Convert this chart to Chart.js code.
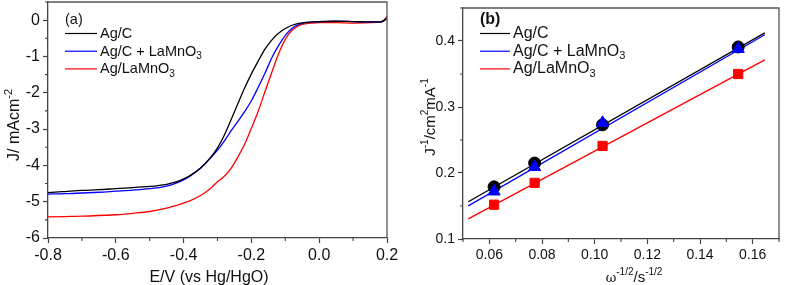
<!DOCTYPE html>
<html>
<head>
<meta charset="utf-8">
<script src="https://cdn.jsdelivr.net/npm/chart.js@4.4.1/dist/chart.umd.min.js"></script>
<style>
  html, body { margin: 0; padding: 0; background: #fff; }
  #wrap { position: relative; width: 787px; height: 285px; }
  #chartA { position: absolute; left: 0; top: 0; }
  #chartB { position: absolute; left: 400px; top: 0; }
</style>
</head>
<body>
<div id="wrap">
  <canvas id="chartA" width="400" height="285"></canvas>
  <canvas id="chartB" width="387" height="285"></canvas>
</div>
<script>
// (a) polarisation curves, E/V vs Hg/HgO
const potential = [-0.8, -0.75, -0.7, -0.65, -0.6, -0.55, -0.5, -0.45, -0.42, -0.4, -0.38, -0.35,
  -0.32, -0.3, -0.28, -0.26, -0.24, -0.22, -0.2, -0.18, -0.16, -0.14, -0.12, -0.1,
  -0.08, -0.06, -0.04, -0.02, 0, 0.05, 0.1, 0.15, 0.18, 0.19, 0.2];
const currentAgC = [-4.75, -4.72, -4.69, -4.67, -4.64, -4.61, -4.58, -4.52, -4.45, -4.37, -4.27, -4.07,
  -3.78, -3.52, -3.17, -2.74, -2.30, -1.87, -1.48, -1.13, -0.80, -0.55, -0.36, -0.23,
  -0.14, -0.09, -0.06, -0.05, -0.04, -0.03, -0.04, -0.05, -0.05, -0.02, 0.05];
const currentAgCLa = [-4.79, -4.78, -4.76, -4.74, -4.71, -4.68, -4.64, -4.57, -4.48, -4.40, -4.29, -4.08,
  -3.79, -3.58, -3.33, -3.05, -2.79, -2.52, -2.22, -1.85, -1.46, -1.04, -0.70, -0.42,
  -0.22, -0.12, -0.07, -0.05, -0.04, -0.03, -0.04, -0.05, -0.05, -0.02, 0.06];
const currentAgLa = [-5.42, -5.41, -5.40, -5.38, -5.36, -5.32, -5.27, -5.18, -5.10, -5.04, -4.97, -4.83,
  -4.63, -4.45, -4.30, -4.08, -3.77, -3.42, -2.98, -2.51, -1.97, -1.44, -0.93, -0.53,
  -0.28, -0.15, -0.10, -0.08, -0.07, -0.07, -0.08, -0.07, -0.05, 0.0, 0.10];
const ticksAX = [-0.8, -0.6, -0.4, -0.2, 0.0, 0.2];
const ticksAY = [-6, -5, -4, -3, -2, -1, 0];

// (b) Koutecky-Levich plots
const omega = [0.0618, 0.0772, 0.1030, 0.1545];
const invJAgC = [0.179, 0.215, 0.273, 0.391];
const invJAgCLa = [0.172, 0.209, 0.276, 0.388];
const invJAgLa = [0.152, 0.185, 0.241, 0.350];
const fitX = [0.052, 0.1646];
const fitAgC = [0.1565, 0.4124];
const fitAgCLa = [0.1502, 0.4094];
const fitAgLa = [0.1305, 0.3715];
const ticksBX = [0.06, 0.08, 0.10, 0.12, 0.14, 0.16];
const ticksBY = [0.1, 0.2, 0.3, 0.4];

const seriesNames = ['Ag/C', 'Ag/C + LaMnO₃', 'Ag/LaMnO₃'];
const seriesColors = ['#000000', '#0000ff', '#ff0000'];

const FAMILY = '"Liberation Sans", Arial, Helvetica, sans-serif';

function pts(xs, ys) {
  return xs.map((x, i) => ({ x: x, y: ys[i] }));
}

// minor ticks half way between the major ones, plus one step past each end
function minors(ticks, min, max) {
  const step = ticks[1] - ticks[0];
  const out = [];
  for (let v = ticks[0] - step / 2; v <= max + 1e-9; v += step) {
    if (v >= min - 1e-9) out.push(v);
  }
  return out;
}

// text with super/subscripts: parts = [text, mode, dx, font]
function drawRich(ctx, parts, x, y, size, align) {
  const fontFor = p => p[3] || ((p[1] ? Math.round(size * 0.68) : size) + 'px ' + FAMILY);
  let w = 0;
  parts.forEach(p => { ctx.font = fontFor(p); w += ctx.measureText(p[0]).width + (p[2] || 0); });
  let cx = align === 'center' ? x - w / 2 : x;
  ctx.textAlign = 'left';
  ctx.textBaseline = 'alphabetic';
  parts.forEach(p => {
    ctx.font = fontFor(p);
    cx += p[2] || 0;
    const dy = p[1] === 1 ? -size * 0.45 : p[1] === -1 ? size * 0.22 : 0;
    ctx.fillText(p[0], cx, y + dy);
    cx += ctx.measureText(p[0]).width;
  });
}

function nameParts(name) {
  return name.split('₃').flatMap((s, i, arr) => i < arr.length - 1 ? [[s, 0], ['3', -1]] : [[s, 0]]);
}

const decor = {
  id: 'decor',
  afterDraw(chart, args, o) {
    const { ctx, chartArea: a, scales } = chart;
    ctx.save();
    ctx.strokeStyle = '#555';
    ctx.lineWidth = 1.3;
    ctx.beginPath();
    ctx.moveTo(a.left, a.top);
    ctx.lineTo(a.right, a.top);
    ctx.lineTo(a.right, a.bottom);
    ctx.stroke();

    ctx.strokeStyle = '#444';
    ctx.lineWidth = 1.1;
    ctx.beginPath();
    o.minorX.forEach(v => {
      const px = scales.x.getPixelForValue(v);
      ctx.moveTo(px, a.bottom);
      ctx.lineTo(px, a.bottom + 3);
    });
    o.minorY.forEach(v => {
      const py = scales.y.getPixelForValue(v);
      ctx.moveTo(a.left, py);
      ctx.lineTo(a.left - 3, py);
    });
    ctx.stroke();

    ctx.fillStyle = '#111';
    drawRich(ctx, o.xTitle, o.xTitlePos[0], o.xTitlePos[1], o.titleSize, 'center');
    ctx.save();
    ctx.translate(o.yTitlePos[0], o.yTitlePos[1]);
    ctx.rotate(-Math.PI / 2);
    drawRich(ctx, o.yTitle, 0, 0, o.titleSize, 'center');
    ctx.restore();

    // panel label and legend
    const L = o.legend;
    ctx.font = (L.bold ? 'bold ' : '') + L.size + 'px ' + FAMILY;
    ctx.fillText(L.tag, L.x, L.y0 - 14);
    seriesNames.forEach((n, i) => {
      const y = L.y0 + i * 17.7;
      ctx.strokeStyle = seriesColors[i];
      ctx.lineWidth = 1.2;
      ctx.beginPath();
      ctx.moveTo(L.x, y - 4.5);
      ctx.lineTo(L.x + L.len, y - 4.5);
      ctx.stroke();
      ctx.fillStyle = '#111';
      drawRich(ctx, nameParts(n), L.x + L.len + 3, y, L.size, 'left');
    });
    ctx.restore();
  }
};

function axis(min, max, ticks, fmt, size, extra) {
  return Object.assign({
    type: 'linear', min: min, max: max,
    afterBuildTicks: s => { s.ticks = ticks.map(v => ({ value: v })); },
    ticks: { callback: v => v.toFixed(fmt), font: { size: size, family: FAMILY }, color: '#111',
      maxRotation: 0, autoSkip: false },
    grid: { drawOnChartArea: false, tickLength: 5, color: '#444', tickWidth: 1.2 },
    border: { color: '#444', width: 1.3 }
  }, extra);
}

// fixed axis size and no extra label padding, so the plot box sits where it should
function fixSize(prop, val) {
  return s => {
    s[prop] = val;
    s.paddingTop = 0; s.paddingBottom = 0; s.paddingLeft = 0; s.paddingRight = 0;
  };
}

const lineA = (i, data) => ({
  label: seriesNames[i], data: pts(potential, data), showLine: true,
  borderColor: seriesColors[i], borderWidth: 1.3, pointRadius: 0,
  cubicInterpolationMode: 'monotone'
});

new Chart(document.getElementById('chartA'), {
  type: 'scatter',
  plugins: [decor],
  data: { datasets: [lineA(0, currentAgC), lineA(1, currentAgCLa), lineA(2, currentAgLa)] },
  options: {
    responsive: false, animation: false, events: [],
    layout: { padding: { top: 2, right: 13, left: 0, bottom: 0 } },
    scales: {
      x: axis(-0.8, 0.2, ticksAX, 1, 16, { afterFit: fixSize('height', 47) }),
      y: axis(-6, 0.5, ticksAY, 0, 16, { afterFit: fixSize('width', 48) })
    },
    plugins: {
      legend: { display: false }, tooltip: { enabled: false },
      decor: {
        minorX: minors(ticksAX, -0.8, 0.2), minorY: minors(ticksAY, -6, 0.5),
        titleSize: 16,
        xTitle: [['E/V (vs Hg/HgO)', 0]], xTitlePos: [209, 282],
        yTitle: [['J/ mAcm', 0], ['-2', 1]], yTitlePos: [19, 125],
        legend: { tag: '(a)', x: 65, y0: 38, len: 32, bold: false, size: 14.5 }
      }
    }
  }
});

const fitB = (i, data) => ({
  label: seriesNames[i], data: pts(fitX, data), showLine: true,
  borderColor: seriesColors[i], borderWidth: 1.3, pointRadius: 0, order: 10
});
const markB = (i, data, style, r, order) => ({
  label: seriesNames[i] + ' data', data: pts(omega, data), showLine: false,
  pointStyle: style, pointRadius: r, pointBackgroundColor: seriesColors[i],
  pointBorderColor: seriesColors[i], pointBorderWidth: 1, order: order
});

new Chart(document.getElementById('chartB'), {
  type: 'scatter',
  plugins: [decor],
  data: {
    datasets: [
      fitB(0, fitAgC), fitB(1, fitAgCLa), fitB(2, fitAgLa),
      markB(0, invJAgC, 'circle', 6, 3),
      markB(1, invJAgCLa, 'triangle', 7, 2),
      markB(2, invJAgLa, 'rect', 6.5, 1)
    ]
  },
  options: {
    responsive: false, animation: false, events: [],
    layout: { padding: { top: 2, right: 4.5, left: 0, bottom: 0 } },
    scales: {
      x: axis(0.05, 0.17, ticksBX, 2, 14, { afterFit: fixSize('height', 46) }),
      y: axis(0.1, 0.45, ticksBY, 1, 14, { afterFit: fixSize('width', 63) })
    },
    plugins: {
      legend: { display: false }, tooltip: { enabled: false },
      decor: {
        minorX: minors(ticksBX, 0.05, 0.17), minorY: minors(ticksBY, 0.1, 0.45),
        titleSize: 15,
        xTitle: [['ω', 0, 0, '13px "DejaVu Serif", serif'], ['-1/2', 1, 0], ['/s', 0, 0], ['-1/2', 1, 0]],
        xTitlePos: [234, 282],
        yTitle: [['J', 0], ['-1', 1], ['/cm', 0], ['2', 1], ['mA', 0], ['-1', 1]], yTitlePos: [35, 117],
        legend: { tag: '(b)', x: 80, y0: 38, len: 30, bold: true, size: 16 }
      }
    }
  }
});
</script>
</body>
</html>
